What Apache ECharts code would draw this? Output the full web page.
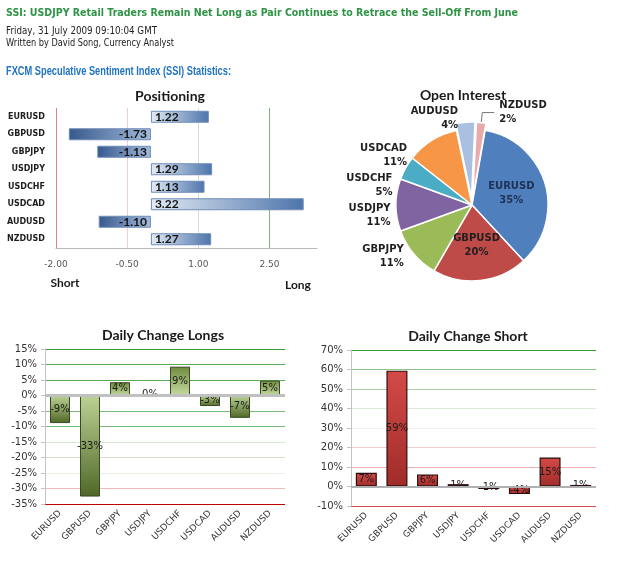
<!DOCTYPE html>
<html>
<head>
	<meta charset="UTF-8">
	<title>SSI: USDJPY Retail Traders Remain Net Long</title>
	<script src="https://cdn.jsdelivr.net/npm/echarts@6/dist/echarts.min.js"></script>
	<style>
		body { margin: 0; background: #fff; }
		#canvas { position: absolute; left: 0; top: 0; width: 635px; height: 575px; }
		.hd { position: absolute; left: 6px; white-space: nowrap; transform-origin: 0 50%; z-index: 2; }
		.h1 { top: 6px; font: bold 11px "DejaVu Sans"; line-height: 14px; color: #2e9445; }
		.h2 { top: 25px; font: 10px "DejaVu Sans"; line-height: 12px; color: #222; }
		.h3 { top: 37px; font: 10px "DejaVu Sans"; line-height: 12px; color: #222; }
		.h4 { top: 64px; font: bold 12px "Liberation Sans"; line-height: 14px; color: #1f73c3; }
	</style>
</head>
<body>
	<!-- page header -->
	<div class="hd h1" data-w="512">SSI: USDJPY Retail Traders Remain Net Long as Pair Continues to Retrace the Sell-Off From June</div>
	<div class="hd h2" data-w="151">Friday, 31 July 2009 09:10:04 GMT</div>
	<div class="hd h3" data-w="168">Written by David Song, Currency Analyst</div>
	<div class="hd h4" data-w="225">FXCM Speculative Sentiment Index (SSI) Statistics:</div>

	<div id="canvas"></div>

<script type="text/javascript">
	// fit header lines to their width in the original page
	document.querySelectorAll('.hd').forEach(function (el) {
		var w = el.getBoundingClientRect().width;
		el.style.transform = 'scaleX(' + (el.dataset.w / w) + ')';
	});

	var pairs = ['EURUSD', 'GBPUSD', 'GBPJPY', 'USDJPY', 'USDCHF', 'USDCAD', 'AUDUSD', 'NZDUSD'];
	var positioning = [1.22, -1.73, -1.13, 1.29, 1.13, 3.22, -1.10, 1.27];
	var openInterest = [35, 20, 11, 11, 5, 11, 4, 2];
	var longsChange = [-8.9, -32.6, 4.3, 0.4, 9.3, -3.4, -7.2, 4.8];
	var shortsChange = [7.0, 59.4, 6.2, 1.2, -1.3, -3.9, 14.9, 0.8];

	var posAxis = { min: -2, max: 3.5, interval: 1.5 };
	var longsAxis = { min: -35, max: 15, interval: 5 };
	var shortsAxis = { min: -10, max: 70, interval: 10 };

	var pieColors = ['#4f7fbd', '#be4b48', '#9bbb59', '#8064a2', '#4bacc6', '#f79646', '#a9c0e0', '#e8abab'];
	var pieInside = ['EURUSD', 'GBPUSD'];
	var pieExploded = ['AUDUSD', 'NZDUSD'];

	var lg = echarts.graphic.LinearGradient;
	var tickFont = 'DejaVu Sans';
	var titleFont = 'bold 14px Lato';

	var myChart = echarts.init(document.getElementById('canvas'));

	var option = {
		animation: false,
		graphic: [
			{ type: 'text', style: { text: 'Positioning', x: 170, y: 96, textAlign: 'center', textVerticalAlign: 'middle', font: titleFont, fill: '#1a1a1a' } },
			{ type: 'text', style: { text: 'Open Interest', x: 463, y: 95, textAlign: 'center', textVerticalAlign: 'middle', font: titleFont, fill: '#1a1a1a' } },
			{ type: 'text', style: { text: 'Daily Change Longs', x: 163, y: 335, textAlign: 'center', textVerticalAlign: 'middle', font: titleFont, fill: '#1a1a1a' } },
			{ type: 'text', style: { text: 'Daily Change Short', x: 468, y: 336, textAlign: 'center', textVerticalAlign: 'middle', font: titleFont, fill: '#1a1a1a' } },
			{ type: 'text', style: { text: 'Short', x: 65, y: 283, textAlign: 'center', textVerticalAlign: 'middle', font: 'bold 12px Lato', fill: '#1a1a1a' } },
			{ type: 'text', style: { text: 'Long', x: 298, y: 285, textAlign: 'center', textVerticalAlign: 'middle', font: 'bold 12px Lato', fill: '#1a1a1a' } }
		],
		grid: [
			{ left: 56, top: 108, width: 261, height: 140 },
			{ left: 45, top: 349, width: 240, height: 155 },
			{ left: 351, top: 350, width: 245, height: 156 }
		],
		xAxis: [
			{
				gridIndex: 0, type: 'value', min: posAxis.min, max: posAxis.max, interval: posAxis.interval,
				axisLine: { show: true, onZero: false, lineStyle: { color: '#b8b8b8' } },
				axisTick: { show: false },
				axisLabel: { showMaxLabel: false, margin: 12, fontSize: 9, fontFamily: tickFont, color: '#555',
					formatter: function (v) { return v.toFixed(2); } },
				splitLine: { show: true, showMaxLine: false,
					lineStyle: { color: ['#dc8580', '#f2cdcd', '#cfe4cf', '#7fb27f', 'rgba(0,0,0,0)'] } }
			},
			{
				gridIndex: 1, type: 'category', data: pairs,
				axisLine: { show: false, onZero: false },
				axisTick: { show: false },
				axisLabel: { interval: 0, rotate: 45, margin: 8, fontSize: 9, fontFamily: tickFont, color: '#333' }
			},
			{
				gridIndex: 2, type: 'category', data: pairs,
				axisLine: { show: false, onZero: false },
				axisTick: { show: false },
				axisLabel: { interval: 0, rotate: 45, margin: 8, fontSize: 9, fontFamily: tickFont, color: '#333' }
			}
		],
		yAxis: [
			{
				gridIndex: 0, type: 'category', data: pairs, inverse: true,
				axisLine: { show: false }, axisTick: { show: false },
				axisLabel: { margin: 11, fontSize: 8, fontWeight: 'bold', fontFamily: tickFont, color: '#1e1e1e' }
			},
			{
				gridIndex: 1, type: 'value', min: longsAxis.min, max: longsAxis.max, interval: longsAxis.interval,
				axisLine: { show: true, lineStyle: { color: '#c4c4c4' } },
				axisTick: { show: true, length: 4, lineStyle: { color: '#c4c4c4' } },
				axisLabel: { formatter: '{value}%', margin: 8, fontSize: 10, fontFamily: tickFont, color: '#333' },
				splitLine: { show: true, lineStyle: { color: ['#c00000', '#f3b9b9', '#e8f1e4', '#d9dccc', '#d5e8d2',
					'#79bb79', '#79bb79', '#c8c8c8', '#5aaa5a', '#5aaa5a', '#3d9a3d'] } }
			},
			{
				gridIndex: 2, type: 'value', min: shortsAxis.min, max: shortsAxis.max, interval: shortsAxis.interval,
				axisLine: { show: true, lineStyle: { color: '#c4c4c4' } },
				axisTick: { show: true, length: 4, lineStyle: { color: '#c4c4c4' } },
				axisLabel: { formatter: '{value}%', margin: 8, fontSize: 10, fontFamily: tickFont, color: '#333' },
				splitLine: { show: true, lineStyle: { color: ['#d24a4a', '#c8c8c8', '#eeb0b0', '#f3cccc', '#f0f0f0',
					'#dcebd5', '#a9cfa3', '#8ec48a', '#2e9a3a'] } }
			}
		],
		series: [
			{
				name: 'Positioning', type: 'bar', xAxisIndex: 0, yAxisIndex: 0, barWidth: 12,
				label: { show: true, fontSize: 12, fontWeight: 'bold', fontFamily: 'Lato', color: '#111',
					formatter: function (p) { return p.value.toFixed(2); } },
				data: positioning.map(function (v) {
					return {
						value: v,
						label: { position: v < 0 ? 'insideRight' : 'insideLeft', distance: 4 },
						itemStyle: {
							borderColor: '#6f8db8', borderWidth: 1,
							color: v < 0
								? new lg(0, 0, 1, 0, [{ offset: 0, color: '#36598c' }, { offset: 1, color: '#a3bbdb' }])
								: new lg(0, 0, 1, 0, [{ offset: 0, color: '#e3ebf5' }, { offset: 1, color: '#4d74aa' }])
						}
					};
				})
			},
			{
				name: 'Open Interest', type: 'pie', center: [472, 205], radius: 76, startAngle: 80,
				selectedMode: 'multiple', selectedOffset: 7, avoidLabelOverlap: true,
				itemStyle: { borderColor: '#fff', borderWidth: 1.5 },
				label: { fontSize: 10, fontWeight: 'bold', fontFamily: tickFont, color: '#1f1f1f', lineHeight: 14,
					formatter: '{b}\n{c}%' },
				labelLine: { show: false, length: 4, length2: 2 },
				data: pairs.map(function (name, i) {
					var inside = pieInside.indexOf(name) >= 0;
					return {
						name: name, value: openInterest[i],
						selected: pieExploded.indexOf(name) >= 0,
						itemStyle: { color: pieColors[i] },
						label: { position: inside ? 'inside' : 'outside', color: i === 0 ? '#1d3256' : '#1f1f1f' },
						labelLine: name === 'NZDUSD'
							? { show: true, length: 10, length2: 12, lineStyle: { color: '#777' } }
							: { show: false }
					};
				})
			},
			{
				name: 'Daily Change Longs', type: 'bar', xAxisIndex: 1, yAxisIndex: 1, barWidth: 20,
				label: { show: true, position: 'inside', fontSize: 10, fontFamily: tickFont, color: '#1a1a1a',
					formatter: function (p) { return Math.round(p.value) + '%'; } },
				data: longsChange.map(function (v) {
					return {
						value: v,
						itemStyle: {
							borderColor: '#3a4a20', borderWidth: 1,
							color: v < 0
								? new lg(0, 0, 0, 1, [{ offset: 0, color: '#bcd295' }, { offset: 1, color: '#4f6828' }])
								: new lg(0, 0, 0, 1, [{ offset: 0, color: '#6f8c3c' }, { offset: 1, color: '#c6daa0' }])
						}
					};
				}),
				markLine: { silent: true, symbol: 'none', label: { show: false },
					lineStyle: { color: '#c0c0c0', width: 3, type: 'solid' }, data: [{ yAxis: 0 }] }
			},
			{
				name: 'Daily Change Short', type: 'bar', xAxisIndex: 2, yAxisIndex: 2, barWidth: 21,
				label: { show: true, position: 'inside', fontSize: 10, fontFamily: tickFont, color: '#1a1a1a',
					formatter: function (p) { return Math.round(p.value) + '%'; } },
				itemStyle: {
					borderColor: '#2b0d0d', borderWidth: 1.2,
					color: new lg(0, 0, 0, 1, [{ offset: 0, color: '#d44a47' }, { offset: 1, color: '#a02c2a' }])
				},
				data: shortsChange,
				markLine: { silent: true, symbol: 'none', label: { show: false },
					lineStyle: { color: '#b0b0b0', width: 2, type: 'solid' }, data: [{ yAxis: 0 }] }
			}
		]
	};

	myChart.setOption(option);
</script>
</body>
</html>
